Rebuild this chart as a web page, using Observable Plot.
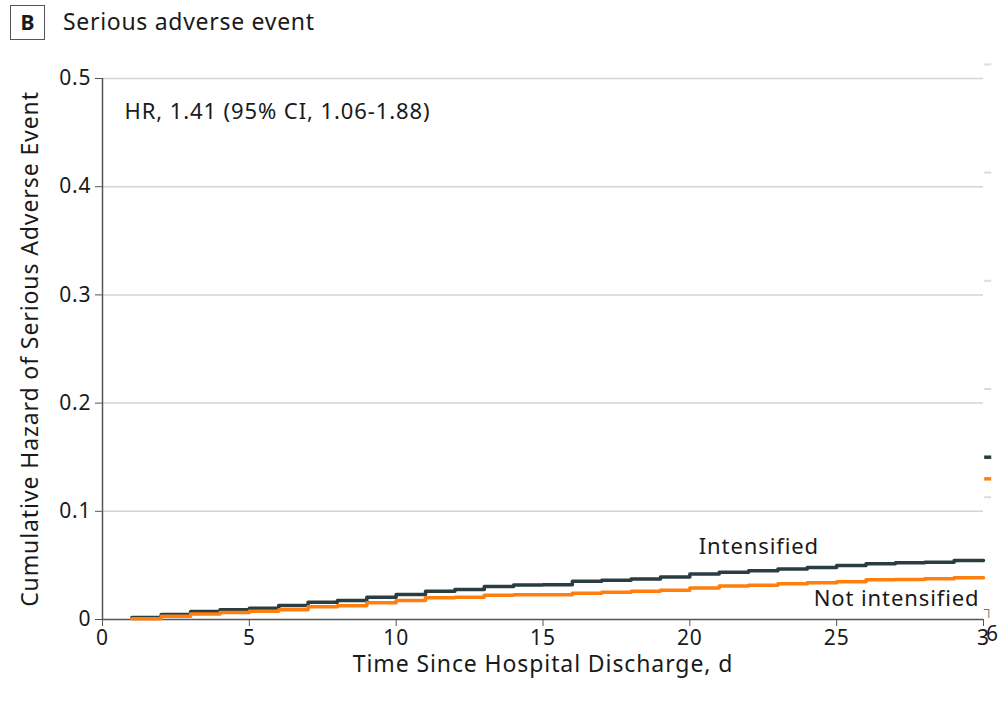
<!DOCTYPE html>
<html>
<head>
<meta charset="utf-8">
<script src="https://cdn.jsdelivr.net/npm/d3@7"></script>
<script src="https://cdn.jsdelivr.net/npm/@observablehq/plot@0.6"></script>
<style>
  html, body { margin: 0; padding: 0; background: #fff; }
  body { width: 999px; height: 705px; overflow: hidden; font-family: "Noto Sans", sans-serif; color: #1a1a1a; }
  #title { position: relative; height: 48px; }
  #title .box { position: absolute; left: 10px; top: 5px; width: 35px; height: 35px; border: 1.5px solid #555; box-sizing: border-box; font-weight: bold; font-size: 21px; text-align: center; line-height: 32px; }
  #title .txt { position: absolute; left: 63px; top: 5px; font-size: 23px; line-height: 32px; letter-spacing: 0.7px; }
  #chart svg { display: block; }
  #chart svg text { letter-spacing: 0.9px; }
</style>
</head>
<body>
<div id="title"><div class="box">B</div><div class="txt">Serious adverse event</div></div>
<div id="chart"></div>
<script>
const days = [1,2,3,4,5,6,7,8,9,10,11,12,13,14,15,16,17,18,19,20,21,22,23,24,25,26,27,28,29,30];
const intensified = [0.0018,0.0046,0.0074,0.009,0.0105,0.013,0.016,0.0176,0.0206,0.023,0.026,0.0277,0.0305,0.032,0.0322,0.0354,0.0362,0.0375,0.0392,0.042,0.0437,0.045,0.0466,0.048,0.050,0.0515,0.0524,0.053,0.0545,0.0545];
const notIntensified = [0.0006,0.003,0.005,0.0065,0.0077,0.009,0.0117,0.0127,0.0154,0.0176,0.020,0.0206,0.0225,0.0228,0.0228,0.0243,0.0252,0.026,0.027,0.029,0.031,0.0317,0.033,0.034,0.035,0.0367,0.037,0.0376,0.0385,0.0385];
const xTicks = [0,5,10,15,20,25,30];
const yTicks = [0,0.1,0.2,0.3,0.4,0.5];
const seriesNames = ["Intensified","Not intensified"];
const seriesColors = ["#2a3d40","#ff7f0e"];
const hrText = "HR, 1.41 (95% CI, 1.06-1.88)";
const rightEdgeSeries = [0.150, 0.130];
const rightEdgeTicks = [0.113, 0.213, 0.313, 0.413, 0.513];

const rows = [];
days.forEach((d,i) => {
  rows.push({day: d, value: intensified[i], group: seriesNames[0]});
  rows.push({day: d, value: notIntensified[i], group: seriesNames[1]});
});
const edgeRows = rightEdgeSeries.map((v,i) => ({value: v, group: seriesNames[i]}));

const FONT = 21;
const FF = "'Noto Sans', sans-serif";
const plot = Plot.plot({
  width: 999,
  height: 657,
  marginLeft: 102,
  marginRight: 16,
  marginTop: 30,
  marginBottom: 86,
  style: {fontFamily: FF, fontSize: FONT + "px", color: "#1a1a1a", overflow: "visible"},
  x: {domain: [0, 30]},
  y: {domain: [0, 0.5]},
  color: {domain: seriesNames, range: seriesColors},
  marks: [
    Plot.gridY(yTicks.filter(t => t > 0), {stroke: "#d4d4d4", strokeOpacity: 1, strokeWidth: 1.5}),
    Plot.ruleY(rightEdgeTicks, {x1: 30.04, x2: 30.28, stroke: "#dcdcdc", strokeWidth: 2, clip: false}),
    Plot.ruleY(edgeRows, {y: "value", x1: 30.04, x2: 30.28, stroke: "group", strokeWidth: 3.5, clip: false}),
    Plot.axisY({ticks: yTicks, tickSize: 7, tickPadding: 4, tickFormat: d => d === 0 ? "0" : d3.format(".1f")(d), stroke: "#555", fontSize: FONT, label: null}),
    Plot.axisX({ticks: xTicks, tickSize: 7, tickPadding: 4, tickFormat: d => d === 30 ? "3" : String(d), stroke: "#555", fontSize: FONT, label: null}),
    Plot.ruleX([0], {y1: 0, y2: 0.5, stroke: "#555", strokeWidth: 1.5}),
    Plot.ruleY([0], {x1: 0, x2: 30, stroke: "#555", strokeWidth: 1.5}),
    Plot.ruleY([0], {x1: 0, x2: 0, dx: -7, stroke: "#555"}),
    Plot.line(rows, {x: "day", y: "value", z: "group", stroke: "group", strokeWidth: 3.5, curve: "step-after"}),
    Plot.text(["┐"], {x: 30, y: 0, dx: 6, dy: -10, fontSize: 14, fill: "#777", clip: false}),
    Plot.text(["6"], {x: 30, y: 0, dx: 9, dy: 15, fontSize: FONT, fill: "#1a1a1a", clip: false}),
    Plot.text([hrText], {x: 0, y: 0.5, dx: 22, dy: 33, textAnchor: "start", fontSize: FONT + 1, fill: "#1a1a1a"}),
    Plot.text([seriesNames[0]], {x: 22.35, y: 0.0545, dy: -14, fontSize: FONT + 1, fill: "#1a1a1a"}),
    Plot.text([seriesNames[1]], {x: 30, y: 0.0385, dx: -4, dy: 21, textAnchor: "end", fontSize: FONT + 1, fill: "#1a1a1a"}),
    Plot.text([{label: "Cumulative Hazard of Serious Adverse Event"}], {frameAnchor: "left", text: "label", rotate: -90, textAnchor: "middle", dx: -72, fontSize: FONT + 2, fill: "#1a1a1a"}),
    Plot.text([{label: "Time Since Hospital Discharge, d"}], {frameAnchor: "bottom", text: "label", dy: 52, fontSize: FONT + 2, fill: "#1a1a1a"})
  ]
});
document.getElementById("chart").appendChild(plot);
</script>
</body>
</html>
